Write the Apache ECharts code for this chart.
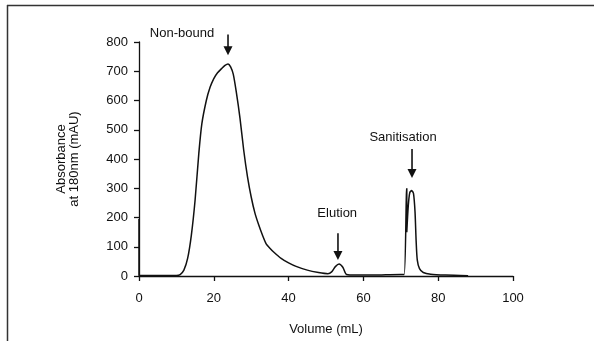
<!DOCTYPE html>
<html>
<head>
<meta charset="utf-8">
<script src="https://cdn.jsdelivr.net/npm/echarts@6/dist/echarts.min.js"></script>
<style>
  html, body { margin: 0; padding: 0; background: #fff; }
  #chart { width: 594px; height: 341px; }
</style>
</head>
<body>
<div id="chart"></div>
<script>
// chromatogram trace
const volume = [0, 0, 5, 10, 11, 12, 13, 14, 15, 16, 16.8, 18, 19, 20, 21, 22, 23, 23.8, 24.5, 25.2, 26, 27, 28, 29, 30, 31, 32, 33, 34, 35, 36, 38, 40, 42, 45, 48, 50.5, 51.5, 52.5, 53.5, 54.5, 55.5, 58, 62, 66, 70, 70.9, 71.5, 71.6, 71.6, 72, 72.4, 72.9, 73.4, 73.8, 74.1, 74.4, 75, 76, 78, 82, 88];
const absorbance = [195, 2, 2, 2, 5, 20, 60, 140, 260, 420, 520, 600, 645, 675, 695, 708, 720, 725, 715, 690, 630, 540, 430, 340, 270, 215, 175, 140, 110, 95, 82, 60, 45, 33, 20, 12, 8, 14, 32, 41, 30, 5, 3, 3, 4, 5, 5, 280, 300, 150, 240, 285, 292, 282, 220, 120, 55, 25, 12, 6, 3, 1];

const xTicks = [0, 20, 40, 60, 80, 100];
const yTicks = [0, 100, 200, 300, 400, 500, 600, 700, 800];

// annotations: label position and arrow (top -> tip), in data units
const noteLabels = ['Non-bound', 'Elution', 'Sanitisation'];
const noteTextAt = [[11.5, 831], [53, 215], [70.6, 475]];
const noteArrowFrom = [[23.8, 826], [53.2, 146], [73, 434]];
const noteArrowTo = [[23.8, 755], [53.2, 55], [73, 335]];

const chart = echarts.init(document.getElementById('chart'));
const font = 'Liberation Sans, Arial, Helvetica, sans-serif';
const ink = '#111';

chart.setOption({
  animation: false,
  grid: { left: 139, right: 81, top: 42, bottom: 65 },
  xAxis: {
    type: 'value',
    min: xTicks[0],
    max: xTicks[xTicks.length - 1],
    interval: 20,
    name: 'Volume (mL)',
    nameLocation: 'middle',
    nameGap: 47,
    nameTextStyle: { fontFamily: font, fontSize: 13, color: ink },
    axisLine: { lineStyle: { color: ink, width: 1.3 } },
    axisTick: { show: true, length: 5, inside: false, lineStyle: { color: ink, width: 1.3 } },
    axisLabel: { margin: 16, fontFamily: font, fontSize: 13, color: ink },
    splitLine: { show: false },
  },
  yAxis: {
    type: 'value',
    min: yTicks[0],
    max: yTicks[yTicks.length - 1],
    interval: 100,
    name: 'Absorbance\nat 180nm (mAU)',
    nameLocation: 'middle',
    nameRotate: 90,
    nameGap: 58,
    nameTextStyle: { fontFamily: font, fontSize: 13, color: ink, lineHeight: 13, align: 'center' },
    axisLine: { show: true, lineStyle: { color: ink, width: 1.3 } },
    axisTick: { show: true, length: 5, lineStyle: { color: ink, width: 1.3 } },
    axisLabel: { margin: 11, fontFamily: font, fontSize: 13, color: ink },
    splitLine: { show: false },
  },
  series: [
    {
      type: 'line',
      data: volume.map((v, i) => [v, absorbance[i]]),
      showSymbol: false,
      smooth: 0.25,
      clip: false,
      lineStyle: { color: ink, width: 1.5 },
    },
  ],
});

// frame lines and annotation arrows
const graphics = [
  { type: 'line', shape: { x1: 7, y1: 5.5, x2: 594, y2: 5.5 }, style: { stroke: '#333', lineWidth: 1.5 } },
  { type: 'line', shape: { x1: 7.5, y1: 5, x2: 7.5, y2: 341 }, style: { stroke: '#333', lineWidth: 1.5 } },
];
noteLabels.forEach((label, i) => {
  const t = chart.convertToPixel({ gridIndex: 0 }, noteTextAt[i]);
  const a = chart.convertToPixel({ gridIndex: 0 }, noteArrowFrom[i]);
  const b = chart.convertToPixel({ gridIndex: 0 }, noteArrowTo[i]);
  graphics.push({
    type: 'text',
    x: t[0],
    y: t[1],
    style: { text: label, font: '13px ' + font, fill: ink, align: 'center', verticalAlign: 'middle' },
  });
  graphics.push({
    type: 'line',
    shape: { x1: a[0], y1: a[1], x2: b[0], y2: b[1] - 7 },
    style: { stroke: ink, lineWidth: 1.6 },
  });
  graphics.push({
    type: 'polygon',
    shape: { points: [[b[0] - 4.5, b[1] - 9], [b[0] + 4.5, b[1] - 9], [b[0], b[1]]] },
    style: { fill: ink },
  });
});
chart.setOption({ graphic: graphics });
</script>
</body>
</html>
